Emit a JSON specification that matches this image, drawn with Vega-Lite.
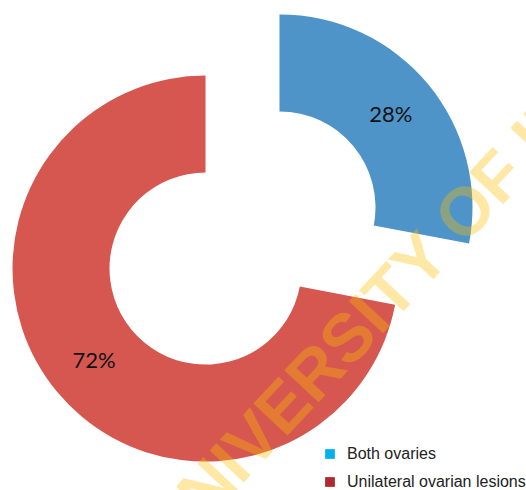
{
  "$schema": "https://vega.github.io/schema/vega-lite/v6.json",
  "width": 526,
  "height": 490,
  "autosize": "none",
  "padding": 0,
  "background": "white",
  "config": {"view": {"stroke": null}},
  "datasets": {
    "shares": [
      {"category": "Both ovaries", "value": 28},
      {"category": "Unilateral ovarian lesions", "value": 72}
    ],
    "watermark": [{"text": "UNIVERSITY OF IBADAN"}]
  },
  "layer": [
    {
      "data": {"name": "shares"},
      "transform": [
        {"joinaggregate": [{"op": "sum", "field": "value", "as": "total"}]},
        {"stack": "value", "groupby": [], "sort": [{"field": "category", "order": "ascending"}], "as": ["v0", "v1"]},
        {"calculate": "PI*(datum.v0+datum.v1)/datum.total", "as": "mid"},
        {"calculate": "sin(datum.mid)", "as": "dx"},
        {"calculate": "cos(datum.mid)", "as": "dy"},
        {"calculate": "(datum.v0+datum.v1)/2", "as": "vmid"},
        {"calculate": "datum.value + '%'", "as": "label"}
      ],
      "layer": [
        {
          "mark": {"type": "arc", "radius": 193, "radius2": 96},
          "encoding": {
            "theta": {"field": "v0", "type": "quantitative", "stack": null, "scale": {"domain": [0, 100]}},
            "theta2": {"field": "v1"},
            "x": {"field": "dx", "type": "quantitative", "scale": {"domain": [-5.052, 5.906], "nice": false, "zero": false}, "axis": null},
            "y": {"field": "dy", "type": "quantitative", "scale": {"domain": [-5.25, 4.958], "nice": false, "zero": false}, "axis": null},
            "fill": {
              "condition": {"test": "datum.category === 'Both ovaries'", "value": "#4f94c9"},
              "value": "#d6574f"
            }
          }
        },
        {
          "mark": {"type": "arc", "radius": 0, "radius2": 0},
          "encoding": {
            "theta": {"field": "v0", "type": "quantitative", "stack": null},
            "theta2": {"field": "v1"},
            "x": {"field": "dx", "type": "quantitative"},
            "y": {"field": "dy", "type": "quantitative"},
            "color": {
              "field": "category",
              "type": "nominal",
              "scale": {"domain": ["Both ovaries", "Unilateral ovarian lesions"], "range": ["#00b0f0", "#b0282c"]},
              "legend": {
                "title": null,
                "orient": "bottom-right",
                "offset": 0,
                "padding": 0,
                "symbolType": "square",
                "symbolSize": 95,
                "symbolStrokeWidth": 0,
                "labelFont": "Liberation Sans",
                "labelFontSize": 16,
                "labelColor": "#222222",
                "labelLimit": 0,
                "labelOffset": 9,
                "rowPadding": 12
              }
            }
          }
        },
        {
          "mark": {"type": "text", "radius": 144.5, "font": "Lato", "fontSize": 22, "color": "#111111"},
          "encoding": {
            "theta": {"field": "vmid", "type": "quantitative", "stack": null},
            "x": {"field": "dx", "type": "quantitative"},
            "y": {"field": "dy", "type": "quantitative"},
            "text": {"field": "label"}
          }
        }
      ]
    },
    {
      "data": {"name": "watermark"},
      "mark": {
        "type": "text",
        "font": "Liberation Sans",
        "fontWeight": "bold",
        "fontSize": 68,
        "angle": 313,
        "align": "left",
        "baseline": "alphabetic",
        "color": "#ffc000",
        "opacity": 0.35
      },
      "encoding": {
        "x": {"datum": -1.431, "type": "quantitative"},
        "y": {"datum": -6.658, "type": "quantitative"},
        "text": {"field": "text"}
      }
    }
  ]
}
